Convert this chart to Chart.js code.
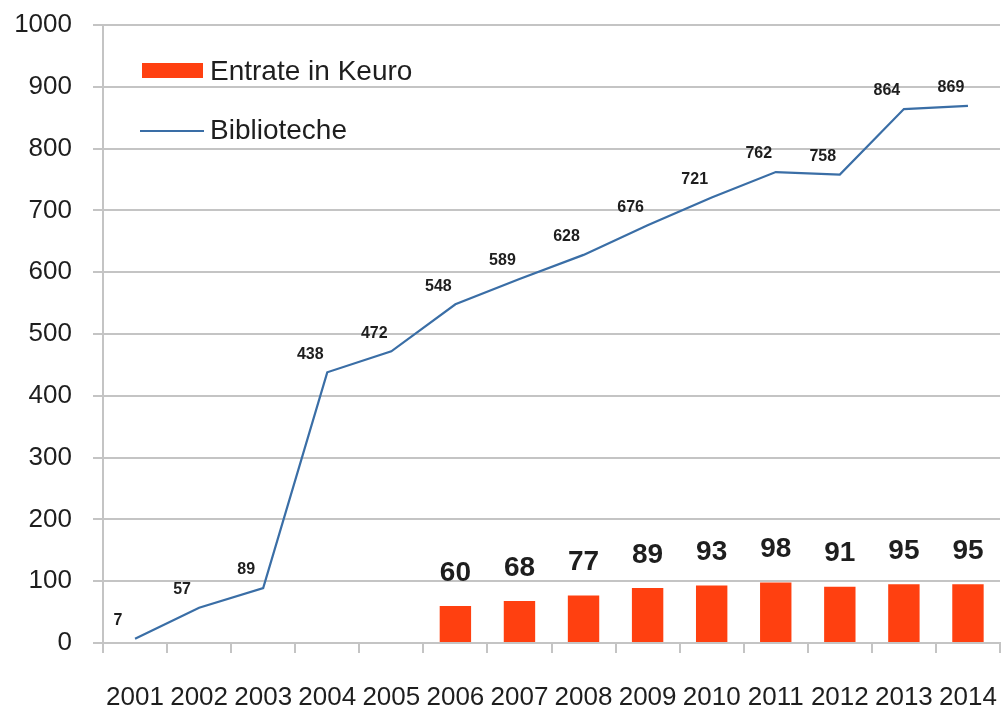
<!DOCTYPE html>
<html>
<head>
<meta charset="utf-8">
<script src="https://cdn.jsdelivr.net/npm/chart.js@4.4.1/dist/chart.umd.min.js"></script>
<style>
    body { margin: 0; background: #fff; }
    #wrap { width: 1002px; height: 711px; }
</style>
</head>
<body>
<div id="wrap"><canvas id="chart" width="1002" height="711"></canvas></div>
<script>
// data
var years = ['2001', '2002', '2003', '2004', '2005', '2006', '2007',
             '2008', '2009', '2010', '2011', '2012', '2013', '2014'];
var entrate = [null, null, null, null, null, 60, 68, 77, 89, 93, 98, 91, 95, 95];
var biblioteche = [7, 57, 89, 438, 472, 548, 589, 628, 676, 721, 762, 758, 864, 869];
var yMax = 1000;
var yStep = 100;

var FONT = "'Liberation Sans', Arial, sans-serif";
var TEXT = '#1e1e1e';
var GRID = '#c4c4c4';
var RED = '#ff4010';
var BLUE = '#3a6ea6';

// value labels above bars / left-above line points
var valueLabels = {
    id: 'valueLabels',
    afterDatasetsDraw: function (chart) {
        var ctx = chart.ctx;
        ctx.save();
        ctx.fillStyle = TEXT;
        ctx.textAlign = 'center';
        ctx.textBaseline = 'middle';
        chart.data.datasets.forEach(function (ds, i) {
            var meta = chart.getDatasetMeta(i);
            meta.data.forEach(function (el, j) {
                var v = ds.data[j];
                if (v === null || v === undefined) {
                    return;
                }
                if (meta.type === 'bar') {
                    ctx.font = 'bold 28px ' + FONT;
                    ctx.fillText(String(v), el.x, el.y - 33);
                } else {
                    ctx.font = 'bold 16px ' + FONT;
                    ctx.fillText(String(v), el.x - 17, el.y - 18);
                }
            });
        });
        ctx.restore();
    }
};

// legend sits inside the plot, top left
var innerLegend = {
    id: 'innerLegend',
    afterDraw: function (chart) {
        var ctx = chart.ctx;
        var ds = chart.data.datasets;
        ctx.save();
        ctx.font = '28px ' + FONT;
        ctx.textBaseline = 'middle';
        ctx.textAlign = 'left';

        ctx.fillStyle = ds[0].backgroundColor;
        ctx.fillRect(142, 63, 61, 15);
        ctx.fillStyle = TEXT;
        ctx.fillText(ds[0].label, 210, 72);

        ctx.strokeStyle = ds[1].borderColor;
        ctx.lineWidth = 2;
        ctx.beginPath();
        ctx.moveTo(140, 131);
        ctx.lineTo(204, 131);
        ctx.stroke();
        ctx.fillText(ds[1].label, 210, 131);
        ctx.restore();
    }
};

new Chart(document.getElementById('chart'), {
    type: 'bar',
    data: {
        labels: years,
        datasets: [{
            label: 'Entrate in Keuro',
            data: entrate,
            backgroundColor: RED,
            barPercentage: 0.49,
            categoryPercentage: 1.0,
            order: 2
        }, {
            type: 'line',
            label: 'Biblioteche',
            data: biblioteche,
            borderColor: BLUE,
            borderWidth: 2.2,
            pointRadius: 0,
            tension: 0,
            fill: false,
            order: 1
        }]
    },
    options: {
        responsive: false,
        animation: false,
        layout: { padding: { top: 25, right: 2, left: 0, bottom: 0 } },
        plugins: {
            legend: { display: false },
            tooltip: { enabled: false }
        },
        scales: {
            x: {
                offset: true,
                grid: {
                    offset: true,
                    drawOnChartArea: true,
                    color: function (c) {
                        return c.index === years.length ? GRID : 'rgba(0,0,0,0)';
                    },
                    tickColor: GRID,
                    lineWidth: 2,
                    tickLength: 10
                },
                border: { display: true, color: GRID, width: 2 },
                ticks: {
                    color: TEXT,
                    font: { family: FONT, size: 26 },
                    padding: 29,
                    maxRotation: 0,
                    autoSkip: false
                },
                afterFit: function (scale) {
                    scale.height = 68;
                    scale.paddingLeft = 0;
                    scale.paddingRight = 0;
                }
            },
            y: {
                min: 0,
                max: yMax,
                ticks: {
                    stepSize: yStep,
                    color: TEXT,
                    font: { family: FONT, size: 26 },
                    padding: 21,
                    callback: function (v) { return String(v); }
                },
                grid: { color: GRID, lineWidth: 2, tickLength: 10 },
                border: { display: true, color: GRID, width: 2 },
                afterFit: function (scale) {
                    scale.width = 103;
                    scale.paddingTop = 0;
                    scale.paddingBottom = 0;
                }
            }
        }
    },
    plugins: [valueLabels, innerLegend]
});
</script>
</body>
</html>
